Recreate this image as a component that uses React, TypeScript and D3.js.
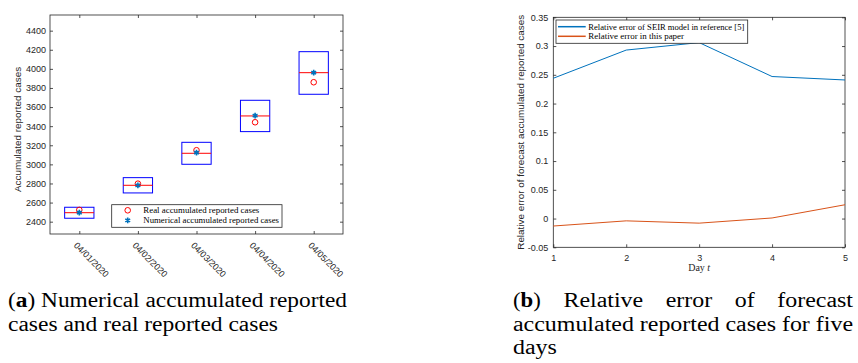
import { useEffect, useRef } from 'react';
import * as d3 from 'd3';

// (a) 箱形圖資料
const dates = ['04/01/2020', '04/02/2020', '04/03/2020', '04/04/2020', '04/05/2020'];
const boxLow = [2436, 2701, 3001, 3343, 3734];
const boxHigh = [2551, 2861, 3231, 3671, 4180];
const boxMedian = [2494, 2781, 3116, 3507, 3960];
const realCases = [2523, 2798, 3148, 3441, 3860];
const numericalCases = [2494, 2781, 3123, 3510, 3960];
const leftYTicks = [2400, 2600, 2800, 3000, 3200, 3400, 3600, 3800, 4000, 4200, 4400];
const leftLegend = ['Real accumulated reported cases', 'Numerical accumulated reported cases'];

// (b) 相對誤差資料
const days = [1, 2, 3, 4, 5];
const seirError = [0.244, 0.293, 0.306, 0.247, 0.241];
const paperError = [-0.013, -0.004, -0.008, 0.001, 0.024];
const rightYTicks = [-0.05, 0, 0.05, 0.1, 0.15, 0.2, 0.25, 0.3, 0.35];
const rightLegend = ['Relative error of SEIR model in reference [5]', 'Relative error in this paper'];

// 圖說
const captionA = [
  [['(', false], ['a', true], [') Numerical accumulated reported', false]],
  [['cases and real reported cases', false]],
] as [string, boolean][][];
const captionBFirst = ['(b)', 'Relative', 'error', 'of', 'forecast'];
const captionBRest = ['accumulated reported cases for five', 'days'];

export default function App() {
  const ref = useRef<SVGSVGElement | null>(null);

  useEffect(() => {
    const svg = d3.select(ref.current);
    svg.selectAll('*').remove();
    const axisColor = '#262626';
    const sans = '"Liberation Sans", Arial, sans-serif';
    const serif = '"Liberation Serif", "Times New Roman", serif';

    // ---------- (a) ----------
    const a = { left: 50, right: 343, top: 15, bottom: 234 };
    const xA = d3.scaleLinear().domain([0.5, 5.5]).range([a.left, a.right]);
    const yA = d3.scaleLinear().domain([2271, 4564]).range([a.bottom, a.top]);
    const gA = svg.append('g');
    const pos = dates.map((_, i) => i + 1);

    const styleAxis = (g: any, labels: boolean) => {
      g.select('.domain').remove();
      g.selectAll('line').attr('stroke', axisColor).attr('stroke-width', 0.8);
      g.selectAll('text').attr('fill', axisColor).style('font-family', sans).style('font-size', '9px');
      if (!labels) g.selectAll('text').remove();
    };

    gA.append('g').attr('transform', `translate(${a.left},0)`)
      .call(d3.axisLeft(yA).tickValues(leftYTicks).tickSize(-3).tickPadding(4).tickFormat(d => String(d)))
      .call(styleAxis, true);
    gA.append('g').attr('transform', `translate(${a.right},0)`)
      .call(d3.axisRight(yA).tickValues(leftYTicks).tickSize(-3))
      .call(styleAxis, false);
    gA.append('g').attr('transform', `translate(0,${a.bottom})`)
      .call(d3.axisBottom(xA).tickValues(pos).tickSize(-3))
      .call(styleAxis, false);
    gA.append('g').attr('transform', `translate(0,${a.top})`)
      .call(d3.axisTop(xA).tickValues(pos).tickSize(-3))
      .call(styleAxis, false);

    gA.selectAll('text.xlab').data(dates).join('text')
      .attr('class', 'xlab')
      .attr('transform', (_, i) => `translate(${xA(i + 1) - 6},${a.bottom + 12}) rotate(45)`)
      .attr('fill', axisColor)
      .style('font-family', sans).style('font-size', '9px')
      .text(d => d);

    gA.append('rect')
      .attr('x', a.left).attr('y', a.top)
      .attr('width', a.right - a.left).attr('height', a.bottom - a.top)
      .attr('fill', 'none').attr('stroke', axisColor).attr('stroke-width', 0.8);

    gA.append('text')
      .attr('transform', `translate(21,${(a.top + a.bottom) / 2 + 5}) rotate(-90)`)
      .attr('text-anchor', 'middle').attr('fill', axisColor)
      .style('font-family', sans).style('font-size', '9.9px')
      .text('Accumulated reported cases');

    const halfW = 0.25;
    gA.selectAll('rect.box').data(pos).join('rect')
      .attr('class', 'box')
      .attr('x', d => xA(d - halfW))
      .attr('y', (_, i) => yA(boxHigh[i]))
      .attr('width', xA(1 + halfW) - xA(1 - halfW))
      .attr('height', (_, i) => yA(boxLow[i]) - yA(boxHigh[i]))
      .attr('fill', 'none').attr('stroke', '#0000ff').attr('stroke-width', 1);

    gA.selectAll('line.median').data(pos).join('line')
      .attr('class', 'median')
      .attr('x1', d => xA(d - halfW)).attr('x2', d => xA(d + halfW))
      .attr('y1', (_, i) => yA(boxMedian[i])).attr('y2', (_, i) => yA(boxMedian[i]))
      .attr('stroke', '#ff0000').attr('stroke-width', 1);

    const star = d3.symbol().type(d3.symbolAsterisk).size(22);
    gA.selectAll('circle.real').data(pos).join('circle')
      .attr('class', 'real')
      .attr('cx', d => xA(d)).attr('cy', (_, i) => yA(realCases[i]))
      .attr('r', 2.8).attr('fill', 'none').attr('stroke', '#ff0000').attr('stroke-width', 1);
    gA.selectAll('path.num').data(pos).join('path')
      .attr('class', 'num')
      .attr('transform', (d, i) => `translate(${xA(d)},${yA(numericalCases[i])})`)
      .attr('d', star()).attr('fill', 'none').attr('stroke', '#0072BD').attr('stroke-width', 1.6);

    // legend (a)
    const la = gA.append('g');
    la.append('rect').attr('x', 111.7).attr('y', 204.7).attr('width', 170.3).attr('height', 22.6)
      .attr('fill', '#fff').attr('stroke', axisColor).attr('stroke-width', 0.8);
    la.append('circle').attr('cx', 127.7).attr('cy', 210.3).attr('r', 2.8)
      .attr('fill', 'none').attr('stroke', '#ff0000').attr('stroke-width', 1);
    la.append('path').attr('transform', 'translate(127.7,220.3)').attr('d', star())
      .attr('fill', 'none').attr('stroke', '#0072BD').attr('stroke-width', 1.6);
    const laWidths = [116, 135.7];
    leftLegend.forEach((t, i) => {
      la.append('text').attr('x', 143.3).attr('y', 213 + i * 10)
        .attr('textLength', laWidths[i]).attr('lengthAdjust', 'spacingAndGlyphs')
        .style('font-family', serif).style('font-size', '8.5px').text(t);
    });

    // ---------- (b) ----------
    const b = { left: 553.3, right: 845, top: 17.3, bottom: 247.3 };
    const xB = d3.scaleLinear().domain([1, 5]).range([b.left, b.right]);
    const yB = d3.scaleLinear().domain([-0.05, 0.35]).range([b.bottom, b.top]);
    const gB = svg.append('g');

    gB.append('g').attr('transform', `translate(${b.left},0)`)
      .call(d3.axisLeft(yB).tickValues(rightYTicks).tickSize(-3).tickPadding(5).tickFormat(d => String(d)))
      .call(styleAxis, true);
    gB.append('g').attr('transform', `translate(${b.right},0)`)
      .call(d3.axisRight(yB).tickValues(rightYTicks).tickSize(-3))
      .call(styleAxis, false);
    gB.append('g').attr('transform', `translate(0,${b.bottom})`)
      .call(d3.axisBottom(xB).tickValues(days).tickSize(-3).tickPadding(7).tickFormat(d => String(d)))
      .call(styleAxis, true);
    gB.append('g').attr('transform', `translate(0,${b.top})`)
      .call(d3.axisTop(xB).tickValues(days).tickSize(-3))
      .call(styleAxis, false);

    gB.append('rect')
      .attr('x', b.left).attr('y', b.top)
      .attr('width', b.right - b.left).attr('height', b.bottom - b.top)
      .attr('fill', 'none').attr('stroke', axisColor).attr('stroke-width', 0.8);

    gB.append('text')
      .attr('transform', `translate(523.5,${(b.top + b.bottom) / 2}) rotate(-90)`)
      .attr('text-anchor', 'middle').attr('fill', axisColor)
      .style('font-family', sans).style('font-size', '9.9px')
      .text('Relative error of forecast accumulated reported cases');

    const xt = gB.append('text')
      .attr('x', (b.left + b.right) / 2).attr('y', 270.7)
      .attr('text-anchor', 'middle').attr('fill', axisColor)
      .style('font-family', serif).style('font-size', '10px');
    xt.append('tspan').text('Day ');
    xt.append('tspan').style('font-style', 'italic').text('t');

    const line = d3.line<number>().x((_, i) => xB(days[i])).y(d => yB(d));
    gB.append('path').attr('d', line(seirError)).attr('fill', 'none')
      .attr('stroke', '#0072BD').attr('stroke-width', 1);
    gB.append('path').attr('d', line(paperError)).attr('fill', 'none')
      .attr('stroke', '#D95319').attr('stroke-width', 1);

    const lb = gB.append('g');
    lb.append('rect').attr('x', 556).attr('y', 20).attr('width', 191.7).attr('height', 23.3)
      .attr('fill', '#fff').attr('stroke', axisColor).attr('stroke-width', 0.8);
    const lbColors = ['#0072BD', '#D95319'];
    const lbWidths = [156, 95.7];
    rightLegend.forEach((t, i) => {
      const yy = 26.7 + i * 9.6;
      lb.append('line').attr('x1', 558).attr('x2', 585.7).attr('y1', yy).attr('y2', yy)
        .attr('stroke', lbColors[i]).attr('stroke-width', 1.5);
      lb.append('text').attr('x', 588.3).attr('y', yy + 2.8)
        .attr('textLength', lbWidths[i]).attr('lengthAdjust', 'spacingAndGlyphs')
        .style('font-family', serif).style('font-size', '8.5px').text(t);
    });

    // ---------- captions ----------
    const capSize = '20px';
    const capWidthsA = [339, 270];
    captionA.forEach((parts, i) => {
      const t = svg.append('text').attr('x', 8).attr('y', 307 + i * 23.5)
        .attr('textLength', capWidthsA[i]).attr('lengthAdjust', 'spacingAndGlyphs')
        .style('font-family', serif).style('font-size', capSize);
      parts.forEach(([s, bold]) => t.append('tspan').attr('font-weight', bold ? 'bold' : null).text(s));
    });

    const measure = (s: string, bold = false) => {
      const t = svg.append('text').style('font-family', serif).style('font-size', capSize)
        .attr('font-weight', bold ? 'bold' : null).text(s);
      const w = (t.node() as SVGTextElement).getComputedTextLength();
      t.remove();
      return w;
    };
    const bLeft = 513, bRight = 853;
    const factor = (bRight - bLeft) / measure(captionBRest[0]);
    captionBRest.forEach((s, i) => {
      svg.append('text').attr('x', bLeft).attr('y', 330.5 + i * 23.5)
        .attr('textLength', measure(s) * factor).attr('lengthAdjust', 'spacingAndGlyphs')
        .style('font-family', serif).style('font-size', capSize).text(s);
    });
    const wordW = captionBFirst.map(w => measure(w) * factor);
    const gap = (bRight - bLeft - d3.sum(wordW)) / (captionBFirst.length - 1);
    let cx = bLeft;
    captionBFirst.forEach((w, i) => {
      const t = svg.append('text').attr('x', cx).attr('y', 307)
        .attr('textLength', wordW[i]).attr('lengthAdjust', 'spacingAndGlyphs')
        .style('font-family', serif).style('font-size', capSize);
      if (i === 0) {
        t.append('tspan').text('(');
        t.append('tspan').attr('font-weight', 'bold').text('b');
        t.append('tspan').text(')');
      } else {
        t.text(w);
      }
      cx += wordW[i] + gap;
    });
  }, []);

  return (
    <svg ref={ref} width={858} height={363}
      style={{ position: 'absolute', left: 0, top: 0, background: '#fff' }} />
  );
}
